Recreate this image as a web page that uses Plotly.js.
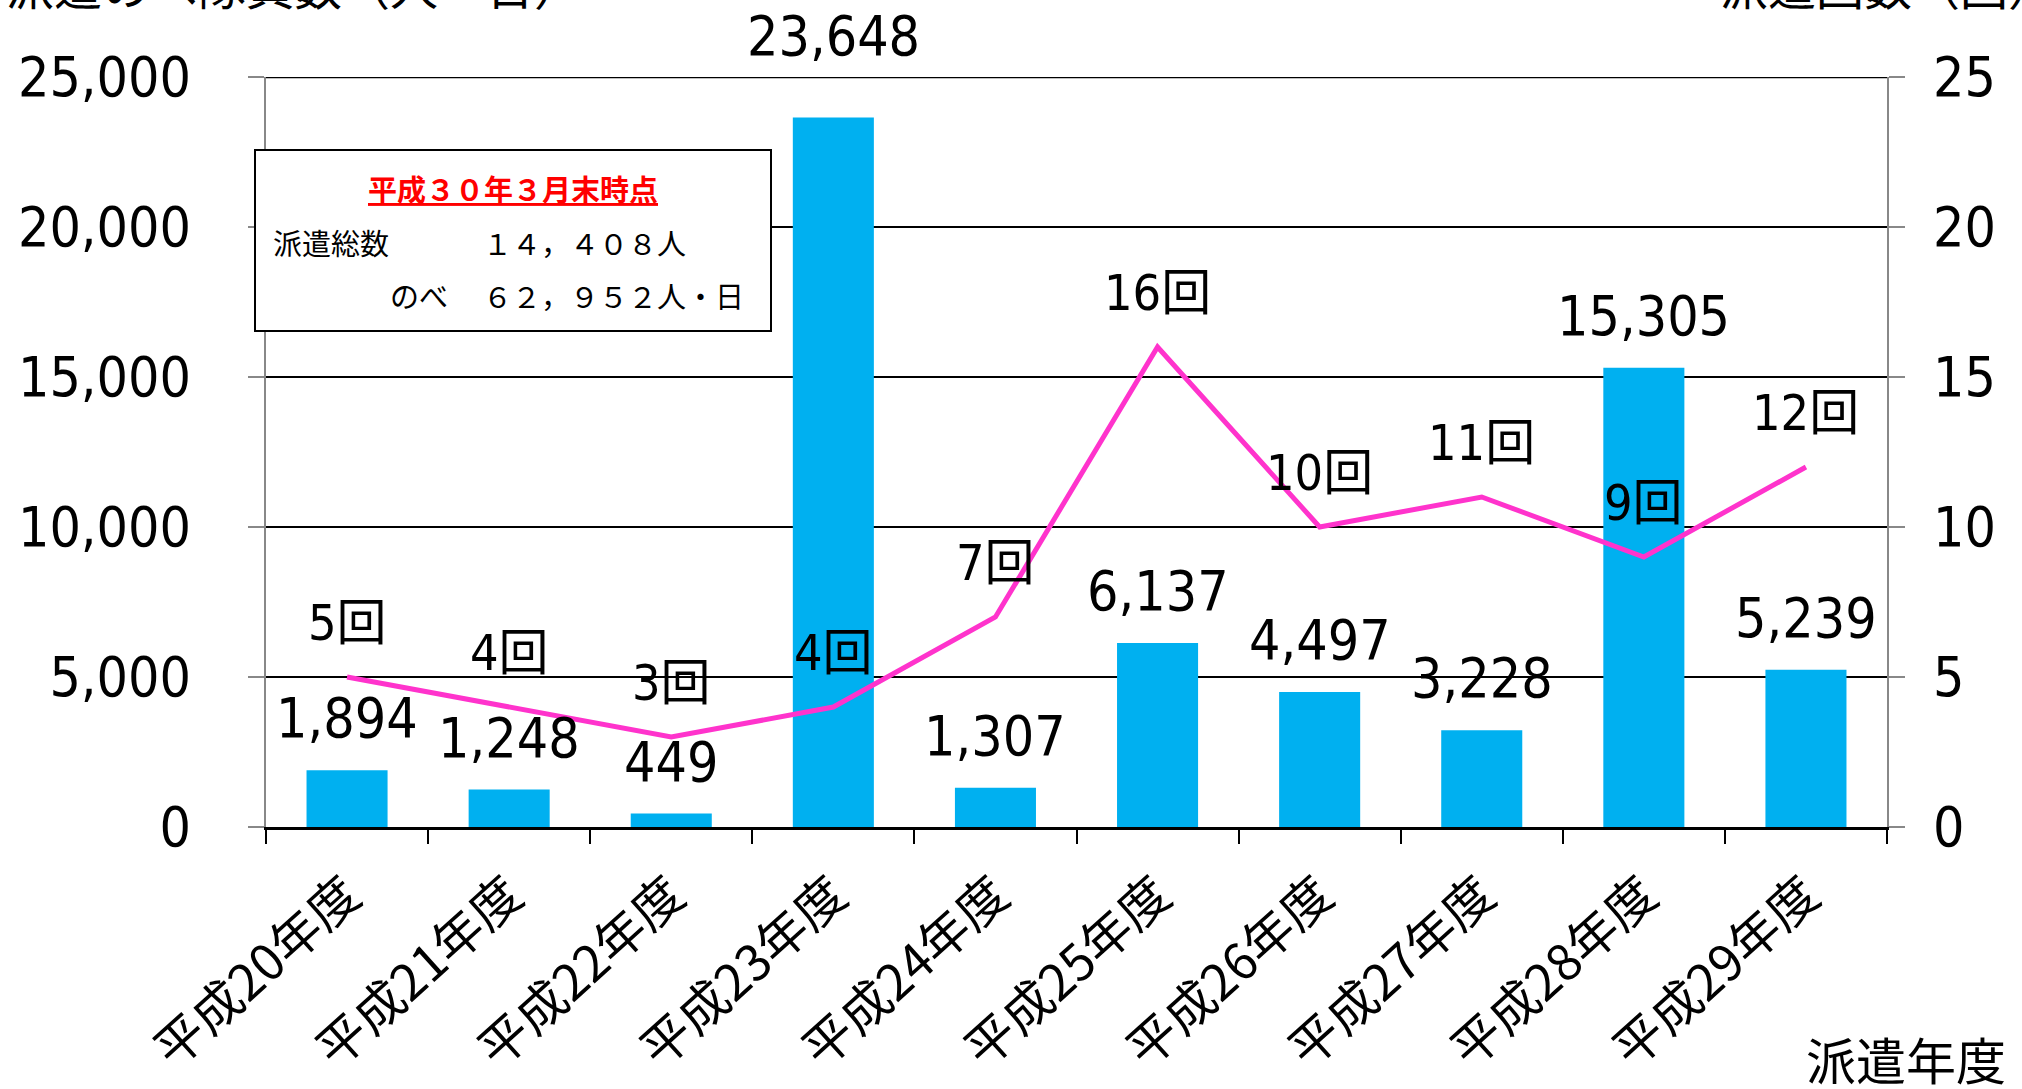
<!DOCTYPE html>
<html>
<head>
<meta charset="utf-8">
<script src="https://cdn.plot.ly/plotly-3.0.1.min.js"></script>
<style>
html,body{margin:0;padding:0;background:#fff;}
#chart{width:2022px;height:1089px;}
</style>
</head>
<body>
<div id="chart"></div>
<script>
// ---- data ----
const categories = ["平成20年度","平成21年度","平成22年度","平成23年度","平成24年度","平成25年度","平成26年度","平成27年度","平成28年度","平成29年度"];
const personDays = [1894, 1248, 449, 23648, 1307, 6137, 4497, 3228, 15305, 5239];
const dispatchCount = [5, 4, 3, 4, 7, 16, 10, 11, 9, 12];
const leftTickVals = [0, 5000, 10000, 15000, 20000, 25000];
const leftTickText = ["0", "5,000", "10,000", "15,000", "20,000", "25,000"];
const rightTickVals = [0, 5, 10, 15, 20, 25];
const rightTickText = ["0", "5", "10", "15", "20", "25"];
const leftAxisTitle = "派遣のべ隊員数（人・日）";
const rightAxisTitle = "派遣回数（回）";
const xAxisTitle = "派遣年度";
const boxTitle = "平成３０年３月末時点";
const boxRow1Label = "派遣総数";
const boxRow1Value = "１４，４０８人";
const boxRow2Label = "のべ";
const boxRow2Value = "６２，９５２人・日";

// ---- style ----
const NUM_FONT = '"DejaVu Sans Condensed", "Liberation Sans Narrow", "Noto Sans CJK JP", sans-serif';
const JP_FONT = '"Noto Sans CJK JP", "Noto Sans", sans-serif';
const W = 2022, H = 1089;
const L = 266, R = 135, T = 77, B = 262;
const PW = W - L - R, PH = H - T - B;
const px = x => (x - L) / PW;
const py = y => (H - B - y) / PH;

const bars = {
  type: 'bar', x: categories, y: personDays, yaxis: 'y',
  marker: {color: '#00B0F0', line: {width: 0}},
  hoverinfo: 'none', showlegend: false
};
const line = {
  type: 'scatter', mode: 'lines', x: categories, y: dispatchCount, yaxis: 'y2',
  line: {color: '#FF33CC', width: 5},
  hoverinfo: 'none', showlegend: false
};

const annotations = [];
personDays.forEach((v, i) => {
  annotations.push({
    x: categories[i], y: v, xref: 'x', yref: 'y',
    text: v.toLocaleString('en-US'), showarrow: false,
    xanchor: 'center', yanchor: 'middle',
    yshift: (v > 20000 ? 82 : 52),
    font: {family: NUM_FONT, size: 55, color: '#000'}
  });
});
dispatchCount.forEach((v, i) => {
  annotations.push({
    x: categories[i], y: v, xref: 'x', yref: 'y2',
    text: v + '回', showarrow: false,
    xanchor: 'center', yanchor: 'middle', yshift: 54,
    font: {family: NUM_FONT, size: 50, color: '#000'}
  });
});
// axis titles
annotations.push({
  xref: 'paper', yref: 'paper', x: px(4), y: py(21), xanchor: 'left', yanchor: 'bottom',
  text: leftAxisTitle, showarrow: false, font: {family: JP_FONT, size: 48, color: '#000'}
});
annotations.push({
  xref: 'paper', yref: 'paper', x: px(1718), y: py(21), xanchor: 'left', yanchor: 'bottom',
  text: rightAxisTitle, showarrow: false, font: {family: JP_FONT, size: 48, color: '#000'}
});
annotations.push({
  xref: 'paper', yref: 'paper', x: px(1906), y: py(1058), xanchor: 'center', yanchor: 'middle',
  text: xAxisTitle, showarrow: false, font: {family: JP_FONT, size: 50, color: '#000'}
});
// text box contents
annotations.push({
  xref: 'paper', yref: 'paper', x: px(513), y: py(188), xanchor: 'center', yanchor: 'middle',
  text: '<u><b>' + boxTitle + '</b></u>', showarrow: false,
  font: {family: JP_FONT, size: 29, color: '#FF0000'}
});
annotations.push({
  xref: 'paper', yref: 'paper', x: px(271), y: py(242), xanchor: 'left', yanchor: 'middle',
  text: boxRow1Label, showarrow: false, font: {family: JP_FONT, size: 29, color: '#000'}
});
annotations.push({
  xref: 'paper', yref: 'paper', x: px(481), y: py(242), xanchor: 'left', yanchor: 'middle',
  text: boxRow1Value, showarrow: false, font: {family: JP_FONT, size: 29, color: '#000'}
});
annotations.push({
  xref: 'paper', yref: 'paper', x: px(388), y: py(295), xanchor: 'left', yanchor: 'middle',
  text: boxRow2Label, showarrow: false, font: {family: JP_FONT, size: 29, color: '#000'}
});
annotations.push({
  xref: 'paper', yref: 'paper', x: px(481), y: py(295), xanchor: 'left', yanchor: 'middle',
  text: boxRow2Value, showarrow: false, font: {family: JP_FONT, size: 29, color: '#000'}
});

const layout = {
  width: W, height: H,
  margin: {l: L, r: R, t: T, b: B, pad: 0},
  paper_bgcolor: '#fff', plot_bgcolor: '#fff',
  bargap: 0.5,
  showlegend: false,
  xaxis: {
    type: 'category',
    showline: true, linecolor: '#000', linewidth: 3,
    ticks: 'outside', tickson: 'boundaries', ticklen: 14, tickwidth: 2, tickcolor: '#000',
    tickangle: -42, ticklabelstandoff: 16,
    tickfont: {family: JP_FONT, size: 50, color: '#000'},
    showgrid: false, zeroline: false
  },
  yaxis: {
    range: [0, 25000], tickvals: leftTickVals, ticktext: leftTickText,
    showline: true, linecolor: '#888', linewidth: 2,
    ticks: 'outside', ticklen: 16, tickwidth: 2, tickcolor: '#888',
    ticklabelstandoff: 46,
    tickfont: {family: NUM_FONT, size: 55, color: '#000'},
    showgrid: true, gridcolor: '#000', gridwidth: 2.5, zeroline: false
  },
  yaxis2: {
    overlaying: 'y', side: 'right',
    range: [0, 25], tickvals: rightTickVals, ticktext: rightTickText,
    showline: true, linecolor: '#888', linewidth: 2,
    ticks: 'outside', ticklen: 16, tickwidth: 2, tickcolor: '#888',
    ticklabelstandoff: 17,
    tickfont: {family: NUM_FONT, size: 55, color: '#000'},
    showgrid: false, zeroline: false
  },
  shapes: [
    { // top gridline (Plotly omits the gridline at the range edge)
      type: 'line', xref: 'paper', yref: 'y', layer: 'below',
      x0: 0, x1: 1, y0: leftTickVals[leftTickVals.length - 1], y1: leftTickVals[leftTickVals.length - 1],
      line: {color: '#000', width: 2.5}
    },
    {
      type: 'rect', xref: 'paper', yref: 'paper', layer: 'above',
      x0: px(255), x1: px(771), y0: py(331), y1: py(150),
      fillcolor: '#fff', line: {color: '#000', width: 2}
    }
  ],
  annotations: annotations
};

Plotly.newPlot('chart', [bars, line], layout, {staticPlot: true, displayModeBar: false});
</script>
</body>
</html>
